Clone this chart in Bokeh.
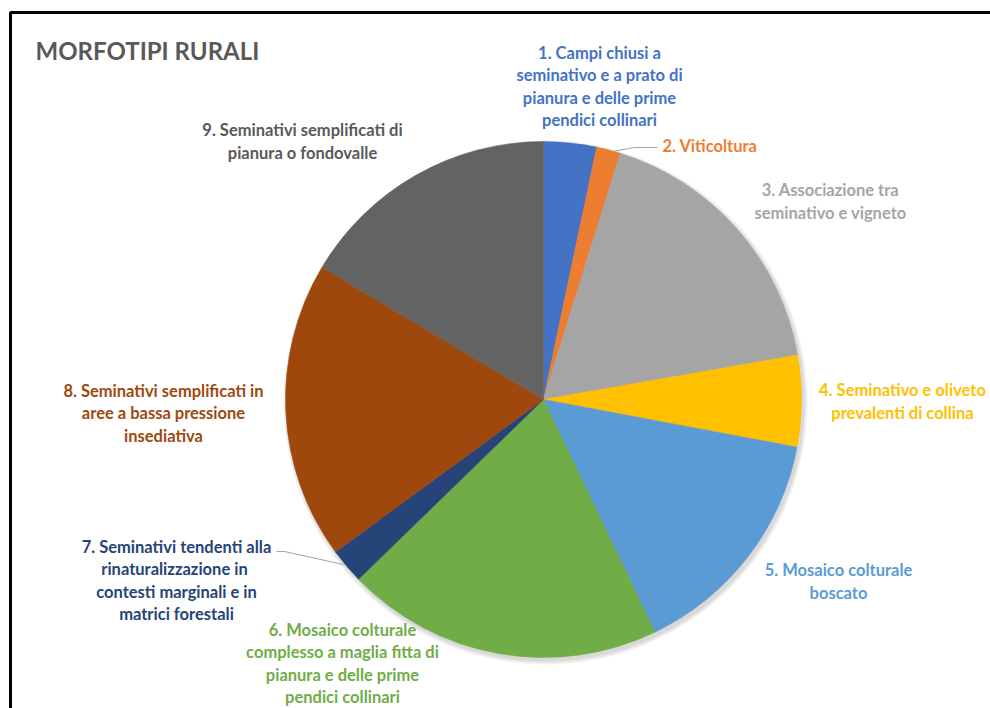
import numpy as np
from bokeh.plotting import figure
from bokeh.models import Range1d, ColumnDataSource
from bokeh.core.properties import value
from bokeh.embed import file_html
from bokeh.resources import INLINE

# ---- data ----
categories = [
    "1. Campi chiusi a\nseminativo e a prato di\npianura e delle prime\npendici collinari",
    "2. Viticoltura",
    "3. Associazione tra\nseminativo e vigneto",
    "4. Seminativo e oliveto\nprevalenti di collina",
    "5. Mosaico colturale\nboscato",
    "6. Mosaico colturale\ncomplesso a maglia fitta di\npianura e delle prime\npendici collinari",
    "7. Seminativi tendenti alla\nrinaturalizzazione  in\ncontesti marginali e in\nmatrici forestali",
    "8. Seminativi semplificati in\naree a bassa pressione\ninsediativa",
    "9. Seminativi semplificati di\npianura o fondovalle",
]
shares = [3.3, 1.5, 17.4, 5.7, 14.9, 19.8, 2.2, 18.6, 16.4]
colors = ["#4472C4", "#ED7D31", "#A5A5A5", "#FFC000", "#5B9BD5",
          "#70AD47", "#264478", "#9E480E", "#636363"]
label_colors = ["#4472C4", "#ED7D31", "#A5A5A5", "#FFC000", "#5B9BD5",
                "#70AD47", "#264478", "#9E480E", "#595959"]

W, H = 990, 708
# layout (pixel positions, y measured from top)
cx, cy, R = 543, 399, 258
label_x = [599, 662, 830, 902, 838, 342, 176, 163, 302]
label_y = [86, 145, 201, 401, 581, 663, 580, 413, 141]
label_align = ["center", "left", "center", "center", "center",
               "center", "center", "center", "center"]

p = figure(width=W, height=H, output_backend="svg", toolbar_location=None,
           x_range=Range1d(0, W), y_range=Range1d(0, H), min_border=0)
p.axis.visible = False
p.grid.visible = False
p.outline_line_color = None
p.background_fill_color = "white"
p.border_fill_color = "white"

def Y(y):
    return H - y

# frame (left and top edges visible)
p.line([10, 10, W + 5], [Y(H + 5), Y(12), Y(12)], line_color="black", line_width=3)

# soft shadow
for k, a in enumerate([0.05, 0.05, 0.05]):
    p.circle([cx + 2], [Y(cy + 3)], radius=R + 1 + k * 1.5, fill_color="black",
             fill_alpha=a, line_color=None)

frac = np.array(shares) / np.sum(shares)
cum = np.concatenate([[0], np.cumsum(frac)])
start = np.pi / 2 - 2 * np.pi * cum[:-1]
end = np.pi / 2 - 2 * np.pi * cum[1:]
src = ColumnDataSource(dict(x=[cx] * len(shares), y=[Y(cy)] * len(shares),
                            start=list(start), end=list(end), color=colors))
p.wedge(x="x", y="y", radius=R, start_angle="start", end_angle="end",
        direction="clock", fill_color="color", line_color="color", line_width=0.5,
        source=src)

# leader lines
p.line([612, 634, 657], [Y(151), Y(147), Y(147)], line_color="#A6A6A6", line_width=1.2)
p.line([276, 284, 343], [Y(551), Y(551), Y(564)], line_color="#A6A6A6", line_width=1.2)

# labels
for i, txt in enumerate(categories):
    p.text([label_x[i]], [Y(label_y[i])], text=[txt], text_color=label_colors[i],
           text_font=value("Lato"), text_font_style="bold", text_font_size="16.5px",
           text_align=label_align[i], text_baseline="middle", text_line_height=1.13)

# title
p.text([35], [Y(50)], text=["MORFOTIPI RURALI"], text_color="#595959",
       text_font=value("Lato"), text_font_style="bold", text_font_size="24px",
       text_align="left", text_baseline="middle")

open("out.html", "w").write(file_html(p, INLINE))
